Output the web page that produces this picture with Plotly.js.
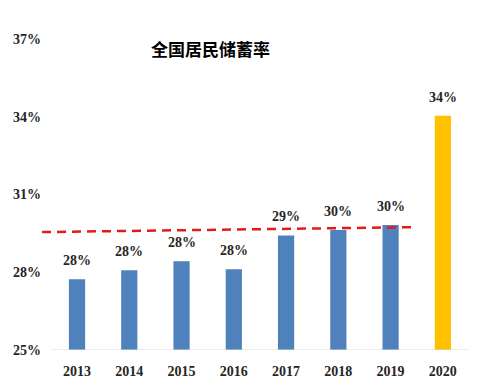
<!DOCTYPE html>
<html>
<head>
<meta charset="utf-8">
<script src="https://cdn.plot.ly/plotly-3.0.1.min.js"></script>
<style>html,body{margin:0;padding:0;background:#fff;}#chart{width:489px;height:390px;}</style>
</head>
<body>
<div id="chart"></div>
<script>
const years = ['2013','2014','2015','2016','2017','2018','2019','2020'];
const savingRate = [27.73, 28.08, 28.42, 28.12, 29.42, 29.63, 29.82, 34.04];
const barColors = ['#4f81bd','#4f81bd','#4f81bd','#4f81bd','#4f81bd','#4f81bd','#4f81bd','#ffc000'];
const trendX = [-0.67, 6.42];
const trendY = [29.55, 29.74];
const yTicks = [25, 28, 31, 34, 37];
const yTickText = ['25%','28%','31%','34%','37%'];
const chartTitle = '全国居民储蓄率';

const xIdx = years.map((_, i) => i);
const serif = 'Liberation Serif';
const labelFont = {family: serif, size: 14, color: '#262626'};

const traces = [
  {
    type: 'bar', x: xIdx, y: savingRate.map(v => v - 25), base: 25,
    width: 0.31, marker: {color: barColors}, hoverinfo: 'skip'
  },
  {
    type: 'scatter', mode: 'lines', x: trendX, y: trendY,
    line: {color: '#e31a1c', width: 2.5, dash: '9px,6px'}, hoverinfo: 'skip'
  }
];

const annotations = savingRate.map((v, i) => ({
  x: i, y: v, xref: 'x', yref: 'y', text: '<b>' + Math.round(v) + '%</b>',
  showarrow: false, yanchor: 'bottom', yshift: 9, font: labelFont
}));
annotations.push({
  x: (210 - 42) / 427, y: 1 + (39 - 48) / 311, xref: 'paper', yref: 'paper',
  text: '<b>' + chartTitle + '</b>', showarrow: false, yanchor: 'middle',
  font: {family: 'Noto Sans CJK SC', size: 17, color: '#000'}
});

const layout = {
  width: 489, height: 390,
  margin: {l: 42, r: 20, t: 39, b: 40},
  paper_bgcolor: '#fff', plot_bgcolor: '#fff',
  showlegend: false,
  xaxis: {
    range: [-0.67, 7.5], tickvals: xIdx, ticktext: years.map(y => '<b>' + y + '</b>'),
    showgrid: false, zeroline: false, showline: false,
    ticks: 'outside', ticklen: 8, tickcolor: 'rgba(0,0,0,0)',
    tickfont: {family: serif, size: 14, color: '#262626'}
  },
  yaxis: {
    range: [25, 37], tickvals: yTicks, ticktext: yTickText.map(t => '<b>' + t + '</b>'),
    showgrid: false, zeroline: false, showline: false,
    tickfont: {family: serif, size: 14, color: '#262626'}
  },
  shapes: [{
    type: 'line', xref: 'x', yref: 'y', x0: -0.5, x1: 7.5, y0: 25, y1: 25,
    line: {color: '#d9d9d9', width: 1}
  }],
  annotations: annotations
};

Plotly.newPlot('chart', traces, layout, {displayModeBar: false, staticPlot: true});
</script>
</body>
</html>
